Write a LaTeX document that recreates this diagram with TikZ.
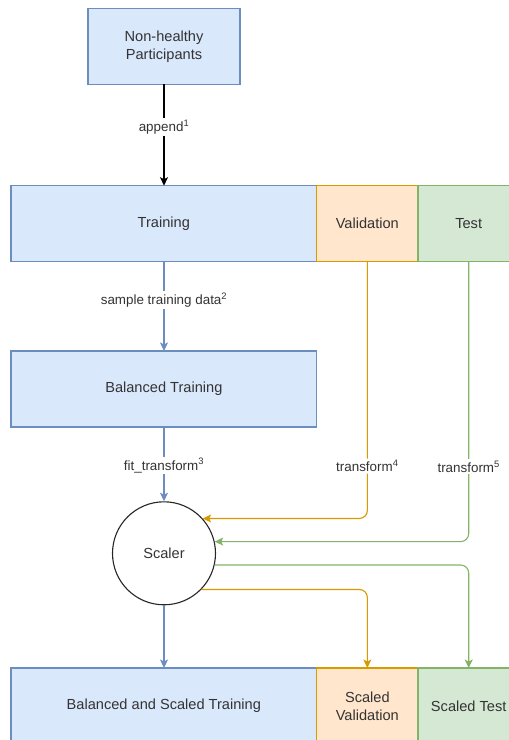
\documentclass[tikz,border=0pt]{standalone}
\usepackage{fontspec}
\setmainfont{Liberation Sans}
\usetikzlibrary{arrows.meta}

\definecolor{bfill}{HTML}{DAE8FC}
\definecolor{bline}{HTML}{6C8EBF}
\definecolor{ofill}{HTML}{FFE6CC}
\definecolor{oline}{HTML}{D79B00}
\definecolor{gfill}{HTML}{D5E8D4}
\definecolor{gline}{HTML}{82B366}
\definecolor{txt}{HTML}{333333}

\tikzset{
  box/.style={draw, line width=1.1pt, minimum height=76pt, inner sep=0pt, outer sep=0pt,
    text=txt, align=center, font=\fontsize{14.6}{18}\selectfont, anchor=north west},
  bluebox/.style={box, fill=bfill, draw=bline},
  orangebox/.style={box, fill=ofill, draw=oline},
  greenbox/.style={box, fill=gfill, draw=gline},
  lbl/.style={fill=white, inner sep=1.5pt, text=txt, font=\fontsize{13.4}{16}\selectfont},
  flow/.style={line width=1.1pt, -{Stealth[length=8.5pt,width=8pt,inset=2pt]}},
}

\begin{document}
\begin{tikzpicture}[x=1pt, y=-1pt]
  \useasboundingbox (0,0) rectangle (509,740);
  \clip (0,0) rectangle (509,740);

  % source data
  \node[bluebox, minimum width=152pt] (nh) at (88,8.3) {Non-healthy\\Participants};

  % split row
  \node[bluebox, minimum width=305.7pt] (train) at (11,185.7) {Training};
  \node[orangebox, minimum width=101.3pt] (val) at (316.7,185.7) {Validation};
  \node[greenbox, minimum width=101.4pt] (test) at (418,185.7) {Test};

  % balanced training set
  \node[bluebox, minimum width=305.7pt] (bal) at (11,351) {Balanced Training};

  % scaler
  \node[circle, draw=black!85, fill=white, line width=1.1pt, minimum size=103pt, inner sep=0pt,
        text=txt, font=\fontsize{14.6}{18}\selectfont] (scaler) at (164,553.3) {Scaler};

  % scaled outputs
  \node[bluebox, minimum width=305.7pt] (btrain) at (11,668) {Balanced and Scaled Training};
  \node[orangebox, minimum width=101.3pt] (sval) at (316.7,668) {Scaled\\Validation};
  \node[greenbox, minimum width=101.4pt] (stest) at (418,668) {Scaled Test};

  % connectors
  \draw[flow, draw=black] (nh.south) -- node[lbl, pos=0.42] (l1) {append\textsuperscript{1}} (nh.south |- train.north);
  \draw[flow, draw=bline] (nh.south |- train.south) -- node[lbl, pos=0.43] (l2) {sample training data\textsuperscript{2}} (nh.south |- bal.north);
  \draw[flow, draw=bline] (nh.south |- bal.south) -- node[lbl, pos=0.52] (l3) {fit\_transform\textsuperscript{3}} (scaler.north);

  \draw[flow, draw=oline, rounded corners=8pt] (val.south) |- node[lbl, pos=0.398] (l4) {transform\textsuperscript{4}} (scaler.42.8);
  \draw[flow, draw=gline, rounded corners=8pt] (test.south) |- node[lbl, pos=0.366] (l5) {transform\textsuperscript{5}} (scaler.13.8);

  \draw[flow, draw=gline, rounded corners=8pt] (scaler.-13) -| (stest.north);
  \draw[flow, draw=oline, rounded corners=8pt] (scaler.-44.4) -| (sval.north);
  \draw[flow, draw=bline] (scaler.south) -- (scaler.south |- btrain.north);
\end{tikzpicture}
\end{document}
